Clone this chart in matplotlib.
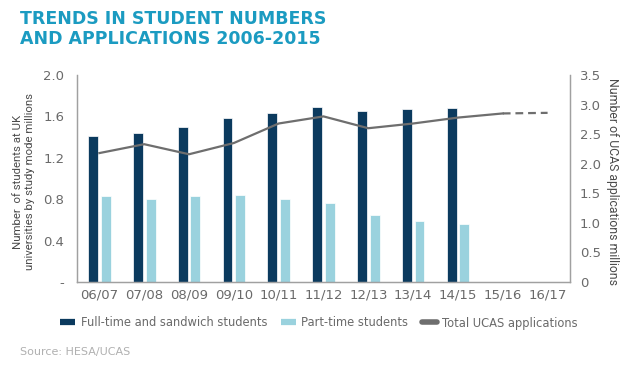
import matplotlib
matplotlib.use("Agg")
import matplotlib.pyplot as plt
from matplotlib.lines import Line2D
import numpy as np

categories = ["06/07", "07/08", "08/09", "09/10", "10/11", "11/12",
              "12/13", "13/14", "14/15", "15/16", "16/17"]
full_time = [1.41, 1.44, 1.50, 1.58, 1.63, 1.69, 1.65, 1.67, 1.68]
part_time = [0.83, 0.80, 0.83, 0.84, 0.80, 0.76, 0.65, 0.59, 0.56]
ucas = [2.18, 2.33, 2.16, 2.35, 2.68, 2.80, 2.60, 2.68, 2.78, 2.85, 2.86]
left_ticks = [0, 0.4, 0.8, 1.2, 1.6, 2.0]
left_labels = ["-", "0.4", "0.8", "1.2", "1.6", "2.0"]
right_ticks = [0, 0.5, 1.0, 1.5, 2.0, 2.5, 3.0, 3.5]
right_labels = ["0", "0.5", "1.0", "1.5", "2.0", "2.5", "3.0", "3.5"]

DARK = "#0b3a5e"
LIGHT = "#9ad2de"
LINE = "#6e6e6e"
TITLE = "#1b9bc1"
TXT = "#6a6a6a"
SPINE = "#a0a0a0"

fig = plt.figure(figsize=(6.44, 3.74), dpi=100)
ax = fig.add_axes([77/644, 1-282/374, (570-77)/644, (282-75)/374])
ax2 = ax.twinx()

x = np.arange(len(categories))
nb = len(full_time)
w = 0.22
off = 0.142
ax.bar(x[:nb] - off, full_time, width=w, color=DARK, edgecolor="white", linewidth=0.5, zorder=2)
ax.bar(x[:nb] + off, part_time, width=w, color=LIGHT, edgecolor="white", linewidth=0.5, zorder=2)

ax2.plot(x[:10], ucas[:10], color=LINE, lw=1.6, zorder=3)
ax2.plot(x[9:], ucas[9:], color=LINE, lw=1.6, ls=(0, (3.5, 2.2)), zorder=3)

ax.set_xlim(-0.5, 10.5)
ax.set_ylim(0, 2.0)
ax2.set_ylim(0, 3.5)

ax.set_xticks(x)
ax.set_xticklabels(categories)
ax.set_yticks(left_ticks)
ax.set_yticklabels(left_labels)
ax2.set_yticks(right_ticks)
ax2.set_yticklabels(right_labels)

for a in (ax, ax2):
    a.tick_params(length=0, labelsize=9.5, colors=TXT)
    for s in a.spines.values():
        s.set_color(SPINE)
        s.set_linewidth(0.9)
    a.spines["top"].set_visible(False)
ax.tick_params(axis="y", pad=9)
ax2.tick_params(axis="y", pad=7)
ax.tick_params(axis="x", pad=5)

fig.text(24/644, 1-182/374, "Number  of students at UK\nuniversities by study mode millions",
         rotation=90, ha="center", va="center", fontsize=8.2, color="#4a4a4a",
         family="Roboto", linespacing=1.2)
fig.text(613/644, 1-182/374, "Number of UCAS applications millions",
         rotation=270, ha="center", va="center", fontsize=8.8, color="#4a4a4a",
         family="Roboto")

fig.text(20/644, 1-10/374, "TRENDS IN STUDENT NUMBERS\nAND APPLICATIONS 2006-2015",
         ha="left", va="top", fontsize=12.5, fontweight="bold", color=TITLE,
         linespacing=1.15)

handles = [
    Line2D([0], [0], color=DARK, lw=4.5, solid_capstyle="butt"),
    Line2D([0], [0], color=LIGHT, lw=4.5, solid_capstyle="butt"),
    Line2D([0], [0], color=LINE, lw=4, solid_capstyle="round"),
]
labels = ["Full-time and sandwich students", "Part-time students", "Total UCAS applications"]
fig.legend(handles, labels, loc="center", bbox_to_anchor=(319/644, 1-323/374), ncol=3,
           frameon=False, fontsize=8.3, labelcolor=TXT, handlelength=1.3,
           handletextpad=0.45, columnspacing=1.2, borderaxespad=0, borderpad=0)

fig.text(20/644, 1-352/374, "Source: HESA/UCAS", ha="left", va="center",
         fontsize=8, color="#b0b0b0")

fig.savefig("out.png", dpi=100)
